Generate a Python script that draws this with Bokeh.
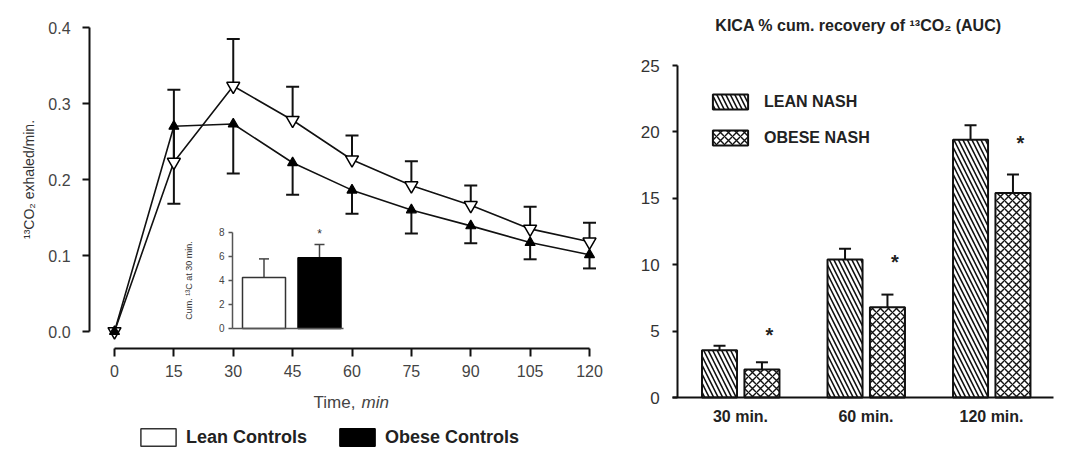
from bokeh.plotting import figure
from bokeh.models import (Range1d, LinearAxis, FixedTicker, Whisker, TeeHead,
                          ColumnDataSource, Legend, LegendItem, Label, NumeralTickFormatter)
from bokeh.layouts import row
from bokeh.embed import file_html
from bokeh.resources import INLINE
from bokeh.core.properties import value

FONT = "Liberation Sans"

# ---------------- data ----------------
time_min = [0, 15, 30, 45, 60, 75, 90, 105, 120]
lean_controls = [0, 0.223, 0.323, 0.278, 0.226, 0.192, 0.166, 0.135, 0.118]
lean_controls_upper = [0, 0.318, 0.385, 0.322, 0.258, 0.224, 0.192, 0.164, 0.143]
obese_controls = [0, 0.270, 0.273, 0.222, 0.186, 0.160, 0.139, 0.117, 0.101]
obese_controls_lower = [0, 0.168, 0.208, 0.180, 0.155, 0.129, 0.116, 0.095, 0.083]
y_ticks_left = [0.0, 0.1, 0.2, 0.3, 0.4]

inset_groups = ["Lean Controls", "Obese Controls"]
inset_cum13c = [4.25, 5.9]
inset_upper = [5.8, 7.0]
inset_star = [None, 7.9]
inset_ticks = [0, 2, 4, 6, 8]

auc_times = ["30 min.", "60 min.", "120 min."]
lean_nash = [3.55, 10.4, 19.4]
lean_nash_upper = [3.9, 11.2, 20.5]
obese_nash = [2.1, 6.8, 15.4]
obese_nash_upper = [2.65, 7.75, 16.8]
star_y = [4.7, 10.2, 19.2]
y_ticks_right = [0, 5, 10, 15, 20, 25]

H = 450

# ---------------- left panel ----------------
p1 = figure(width=620, height=H, x_range=Range1d(-28.8, 127.83),
            y_range=Range1d(-0.15658, 0.43553), output_backend="svg",
            toolbar_location=None, x_axis_type=None, y_axis_type=None,
            min_border=0, outline_line_color=None)
p1.extra_x_ranges = {"ix": Range1d(-3.7477, 7.4234)}
p1.extra_y_ranges = {"iy": Range1d(-10.1667, 27.333)}

def style_axis(ax, size, color="#444"):
    ax.axis_line_width = 2
    ax.axis_line_color = "#111"
    ax.major_tick_line_width = 2
    ax.major_tick_line_color = "#111"
    ax.minor_tick_line_color = None
    ax.major_tick_in = 0
    ax.major_label_text_font = FONT
    ax.major_label_text_font_size = size
    ax.major_label_text_color = color
    ax.axis_label_text_font = FONT
    ax.axis_label_text_font_style = "normal"

yax = LinearAxis(fixed_location=-6.3, bounds=(0, 0.4),
                 ticker=FixedTicker(ticks=y_ticks_left),
                 formatter=NumeralTickFormatter(format="0.0"))
style_axis(yax, "16px")
yax.major_tick_out = 7
yax.major_label_standoff = 12
yax.axis_label = "¹³CO₂ exhaled/min."
yax.axis_label_text_font_size = "14px"
yax.axis_label_text_color = "#333"
yax.axis_label_standoff = 8
p1.add_layout(yax, "left")

xax = LinearAxis(fixed_location=-0.02237, bounds=(0, 120),
                 ticker=FixedTicker(ticks=time_min))
style_axis(xax, "16px")
xax.major_tick_out = 8
xax.major_label_standoff = 8
p1.add_layout(xax, "below")

p1.add_layout(Label(x=313, y=H - 402, x_units="screen", y_units="screen", text="Time,",
                    text_font=FONT, text_font_size="17px", text_color="#444",
                    text_baseline="middle", text_align="left"))
p1.add_layout(Label(x=361, y=H - 402, x_units="screen", y_units="screen", text="min",
                    text_font=FONT, text_font_size="17px", text_color="#444",
                    text_font_style="italic", text_baseline="middle", text_align="left"))

# lines
p1.line(time_min, lean_controls, line_color="#111", line_width=1.6)
p1.line(time_min, obese_controls, line_color="#111", line_width=1.6)

lean_err = ColumnDataSource(dict(t=time_min[1:], lo=lean_controls[1:], hi=lean_controls_upper[1:]))
obese_err = ColumnDataSource(dict(t=time_min[1:], lo=obese_controls_lower[1:], hi=obese_controls[1:]))
p1.add_layout(Whisker(source=lean_err, base="t", lower="lo", upper="hi",
                      upper_head=TeeHead(size=13, line_width=2, line_color="#111"),
                      lower_head=None, line_width=2, line_color="#111"))
p1.add_layout(Whisker(source=obese_err, base="t", lower="lo", upper="hi",
                      lower_head=TeeHead(size=13, line_width=2, line_color="#111"),
                      upper_head=None, line_width=2, line_color="#111"))

p1.scatter(time_min, lean_controls, marker="inverted_triangle", size=13,
           fill_color="white", line_color="black", line_width=1.5)
p1.scatter(time_min, obese_controls, marker="triangle", size=10,
           fill_color="black", line_color="black", line_width=1.2)

# inset
inset_x = [i + 1 for i in range(len(inset_groups))]
r_lean_c = p1.vbar(x=inset_x[0:1], top=inset_cum13c[0:1], width=0.775,
                   x_range_name="ix", y_range_name="iy",
                   fill_color="white", line_color="#333", line_width=1.5)
r_obese_c = p1.vbar(x=inset_x[1:2], top=inset_cum13c[1:2], width=0.775,
                    x_range_name="ix", y_range_name="iy",
                    fill_color="black", line_color="black", line_width=1.5)
inset_err = ColumnDataSource(dict(x=inset_x, lo=inset_cum13c, hi=inset_upper))
p1.add_layout(Whisker(source=inset_err, base="x", lower="lo", upper="hi",
                      x_range_name="ix", y_range_name="iy",
                      upper_head=TeeHead(size=10, line_width=1.5, line_color="#444"),
                      lower_head=None, line_width=1.5, line_color="#444"))
p1.text(x=inset_x[1:2], y=inset_star[1:2], text=["*"], x_range_name="ix", y_range_name="iy",
        text_font=value(FONT), text_font_size="12px", text_color="#333",
        text_align="center", text_baseline="middle")

iyax = LinearAxis(x_range_name="ix", y_range_name="iy", fixed_location=0.4324,
                  bounds=(0, 8), ticker=FixedTicker(ticks=inset_ticks))
style_axis(iyax, "10px")
iyax.axis_line_width = 1.5
iyax.axis_line_color = "#555"
iyax.major_tick_line_width = 1.5
iyax.major_tick_line_color = "#555"
iyax.major_tick_out = 4
iyax.major_label_standoff = 4
iyax.axis_label = "Cum. ¹³C at 30 min."
iyax.axis_label_text_font_size = "9px"
iyax.axis_label_text_color = "#333"
iyax.axis_label_standoff = 22
p1.add_layout(iyax, "left")

ixax = LinearAxis(x_range_name="ix", y_range_name="iy", fixed_location=0,
                  bounds=(0.4324, 2.432), ticker=FixedTicker(ticks=[]))
style_axis(ixax, "10px")
ixax.axis_line_width = 1.5
ixax.axis_line_color = "#555"
ixax.major_tick_line_color = None
p1.add_layout(ixax, "below")

leg1 = Legend(items=[LegendItem(label=inset_groups[0], renderers=[r_lean_c]),
                     LegendItem(label=inset_groups[1], renderers=[r_obese_c])],
              orientation="horizontal", location=(136, 2), padding=0, margin=0,
              glyph_width=44, glyph_height=22, label_standoff=6, spacing=28,
              border_line_color=None, background_fill_alpha=0,
              label_text_font=FONT, label_text_font_size="18px",
              label_text_font_style="bold", label_text_color="#222")
p1.add_layout(leg1)

# ---------------- right panel ----------------
p2 = figure(width=445, height=H, x_range=Range1d(-0.456, 3.0896),
            y_range=Range1d(-3.991, 29.895), output_backend="svg",
            toolbar_location=None, x_axis_type=None, y_axis_type=None,
            min_border=0, outline_line_color=None)

centers = [i + 0.5 for i in range(len(auc_times))]
lean_x = [c - 0.167 for c in centers]
obese_x = [c + 0.171 for c in centers]

r_lean = p2.vbar(x=lean_x, top=lean_nash, width=0.279, fill_color="white",
                 line_color="#111", line_width=2, hatch_pattern="left_diagonal_line",
                 hatch_scale=9, hatch_weight=1.6, hatch_color="#111")
r_obese = p2.vbar(x=obese_x, top=obese_nash, width=0.279, fill_color="white",
                  line_color="#111", line_width=2, hatch_pattern="diagonal_cross",
                  hatch_scale=8, hatch_weight=1.4, hatch_color="#111")

p2.add_layout(Whisker(source=ColumnDataSource(dict(x=lean_x, lo=lean_nash, hi=lean_nash_upper)),
                      base="x", lower="lo", upper="hi", lower_head=None,
                      upper_head=TeeHead(size=12, line_width=2, line_color="#111"),
                      line_width=2, line_color="#111"))
p2.add_layout(Whisker(source=ColumnDataSource(dict(x=obese_x, lo=obese_nash, hi=obese_nash_upper)),
                      base="x", lower="lo", upper="hi", lower_head=None,
                      upper_head=TeeHead(size=12, line_width=2, line_color="#111"),
                      line_width=2, line_color="#111"))
p2.text(x=[x + 0.06 for x in obese_x], y=star_y, text=["*"] * len(star_y),
        text_font=value(FONT), text_font_size="20px", text_font_style="bold",
        text_color="#222", text_align="center", text_baseline="middle")

ryax = LinearAxis(fixed_location=0, bounds=(0, 25), ticker=FixedTicker(ticks=y_ticks_right))
style_axis(ryax, "17px", "#333")
ryax.major_tick_out = 5
ryax.major_label_standoff = 13
p2.add_layout(ryax, "left")

rxax = LinearAxis(fixed_location=0, bounds=(-0.04, 2.994), ticker=FixedTicker(ticks=centers),
                  major_label_overrides={c: t for c, t in zip(centers, auc_times)})
style_axis(rxax, "16px", "#222")
rxax.major_tick_line_color = None
rxax.major_tick_out = 0
rxax.major_label_standoff = 10
rxax.major_label_text_font_style = "bold"
p2.add_layout(rxax, "below")

p2.add_layout(Label(x=238, y=H - 25, x_units="screen", y_units="screen",
                    text="KICA % cum. recovery of ¹³CO₂ (AUC)",
                    text_font=FONT, text_font_size="16px", text_font_style="bold",
                    text_color="#222", text_align="center", text_baseline="middle"))

leg2 = Legend(items=[LegendItem(label="LEAN NASH", renderers=[r_lean]),
                     LegendItem(label="OBESE NASH", renderers=[r_obese])],
              location=(88, H - 147), padding=0, margin=0, glyph_width=44, glyph_height=19,
              label_standoff=12, spacing=17, border_line_color=None,
              background_fill_alpha=0, label_text_font=FONT, label_text_font_size="16px",
              label_text_font_style="bold", label_text_color="#222")
p2.add_layout(leg2)

layout = row(p1, p2, spacing=0)
open("out.html", "w").write(file_html(layout, INLINE))
